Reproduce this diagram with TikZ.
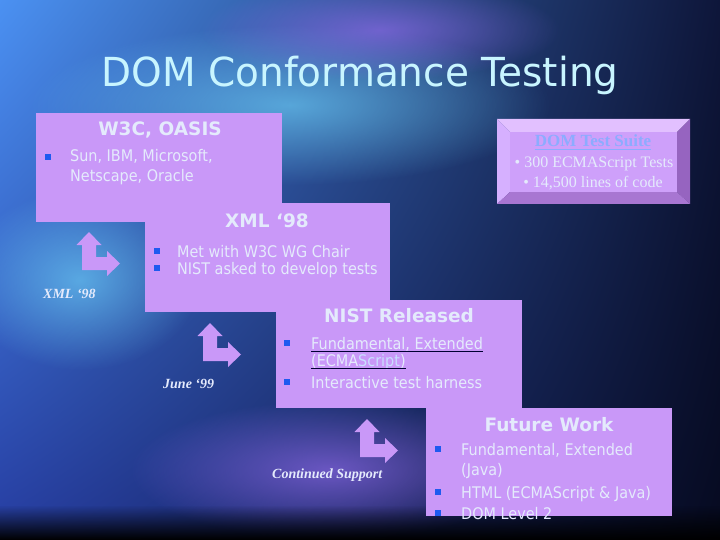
\documentclass[tikz,border=0pt]{standalone}
\usepackage{fontspec}
\usetikzlibrary{fadings,shadings}
\newfontfamily\tahoma[FakeStretch=0.9]{DejaVu Sans}
\newfontfamily\titlefont[FakeStretch=0.975]{DejaVu Sans}
\newfontfamily\headfont{DejaVu Sans}
\newfontfamily\timesf{Liberation Serif}
\definecolor{bgUL}{RGB}{75,145,242}
\definecolor{bgUR}{RGB}{14,22,58}
\definecolor{bgLL}{RGB}{38,60,160}
\definecolor{bgLR}{RGB}{6,10,32}
\definecolor{glowc}{RGB}{110,210,250}
\definecolor{violc}{RGB}{150,110,240}
\definecolor{boxv}{RGB}{201,152,248}
\definecolor{txt}{RGB}{228,234,252}
\definecolor{bulc}{RGB}{30,90,240}
\definecolor{titlec}{RGB}{200,245,255}
\definecolor{linkc}{RGB}{140,172,255}
\definecolor{scriptc}{RGB}{200,222,255}
\definecolor{bevT}{RGB}{226,192,255}
\definecolor{bevL}{RGB}{214,176,255}
\definecolor{bevR}{RGB}{150,100,192}
\definecolor{bevB}{RGB}{168,118,210}
\definecolor{face}{RGB}{206,160,250}
\tikzfading[name=softglow, inner color=transparent!35, outer color=transparent!100]
\begin{document}
\begin{tikzpicture}[x=1pt,y=-1pt,
  vbox/.style={fill=boxv, draw=none, inner sep=0, anchor=north west},
  body/.style={font=\tahoma\fontsize{16}{19}\selectfont, text=txt, inner sep=0, anchor=base west},
  head/.style={font=\headfont\bfseries\fontsize{18.5}{21}\selectfont, text=txt, inner sep=0, anchor=base},
  bul/.style={fill=bulc, minimum size=6.5, inner sep=0},
  lbl/.style={font=\timesf\bfseries\itshape\fontsize{14}{16}\selectfont, text=txt, inner sep=0, anchor=base west},
  dtext/.style={font=\timesf\fontsize{16}{18}\selectfont, text=txt, inner sep=0, anchor=base},
  ul/.style={line width=0.9pt, draw=black!80!blue},
  turn/.style={fill=boxv, draw=none}
]
\useasboundingbox (0,0) rectangle (720,540);
% background
\shade[upper left=bgUL, upper right=bgUR, lower left=bgLL, lower right=bgLR] (0,0) rectangle (720,540);
\fill[glowc, path fading=softglow] (290,105) ellipse (260 and 80);
\fill[violc, path fading=softglow] (380,30) ellipse (180 and 50);
\fill[glowc, path fading=softglow] (80,280) ellipse (120 and 90);
\fill[violc, path fading=softglow] (330,470) ellipse (200 and 70);
\fill[black, path fading=north] (0,505) rectangle (720,540);

% title
\node[font=\titlefont\fontsize{40}{46}\selectfont, text=titlec, inner sep=0, anchor=base] (title) at (360,87) {DOM Conformance Testing};

% boxes
\node[vbox, minimum width=246, minimum height=109] (w3c) at (36,113) {};
\node[vbox, minimum width=245, minimum height=109] (xml) at (145,203) {};
\node[vbox, minimum width=246, minimum height=108] (nist) at (276,300) {};
\node[vbox, minimum width=246, minimum height=108] (fut) at (426,408) {};

% DOM Test Suite beveled box
\fill[bevT] (497,119) -- (690,119) -- (677,132) -- (510,132) -- cycle;
\fill[bevL] (497,119) -- (510,132) -- (510,192) -- (497,204) -- cycle;
\fill[bevR] (690,119) -- (690,204) -- (677,192) -- (677,132) -- cycle;
\fill[bevB] (497,204) -- (690,204) -- (677,192) -- (510,192) -- cycle;
\node[fill=face, inner sep=0, minimum width=167, minimum height=60, anchor=north west] (dom) at (510,132) {};
\node[font=\timesf\bfseries\fontsize{17}{19}\selectfont, text=linkc, inner sep=0, anchor=base] (domh) at (593,147) {DOM Test Suite};
\draw[line width=0.8pt, draw=linkc] ([yshift=-2pt]domh.base west) -- ([yshift=-2pt]domh.base east);
\node[dtext] (d1) at (594,168) {• 300 ECMAScript Tests};
\node[dtext] (d2) at (593,188) {• 14,500 lines of code};

% W3C box text
\node[head] (h1) at (160,136) {W3C, OASIS};
\node[bul] (b11) at (48,157) {};
\node[body] (t11) at (70,162) {Sun, IBM, Microsoft,};
\node[body] (t12) at (70,182) {Netscape, Oracle};

% XML box text
\node[head] (h2) at (267,227) {XML ‘98};
\node[bul] (b21) at (157,251) {};
\node[body] (t21) at (177,257) {Met with W3C WG Chair};
\node[bul] (b22) at (157,268) {};
\node[body] (t22) at (177,274) {NIST asked to develop tests};

% NIST box text
\node[head] (h3) at (399,322) {NIST Released};
\node[bul] (b31) at (287,343) {};
\node[body] (t31) at (311,349) {Fundamental, Extended};
\node[body] (t32) at (311,366) {(ECMA\textcolor{scriptc}{Script})};
\draw[ul] ([yshift=-2pt]t31.base west) -- ([yshift=-2pt]t31.base east);
\draw[ul] ([yshift=-2pt]t32.base west) -- ([yshift=-2pt]t32.base east);
\node[bul] (b33) at (287,382) {};
\node[body] (t33) at (311,388) {Interactive test harness};

% Future box text
\node[head] (h4) at (549,431) {Future Work};
\node[bul] (b41) at (438,449) {};
\node[body] (t41) at (461,455) {Fundamental, Extended};
\node[body] (t42) at (461,475) {(Java)};
\node[bul] (b43) at (438,492) {};
\node[body] (t43) at (461,498) {HTML (ECMAScript \& Java)};
\node[bul] (b44) at (438,513) {};
\node[body] (t44) at (461,519) {DOM Level 2};

% turn arrows
\foreach \ax/\ay in {89/232, 210/323, 367/419}{
  \fill[turn, shift={(\ax,\ay)}] (0,0) -- (12.5,13) -- (7,13) -- (7,25) -- (18,25) -- (18,19) -- (31,31.5) -- (18,44) -- (18,38) -- (-7,38) -- (-7,13) -- (-12.5,13) -- cycle;
}

% side labels
\node[lbl] (l1) at (43,298) {XML ‘98};
\node[lbl] (l2) at (163,388) {June ‘99};
\node[lbl] (l3) at (272,478) {Continued Support};
\end{tikzpicture}
\end{document}
